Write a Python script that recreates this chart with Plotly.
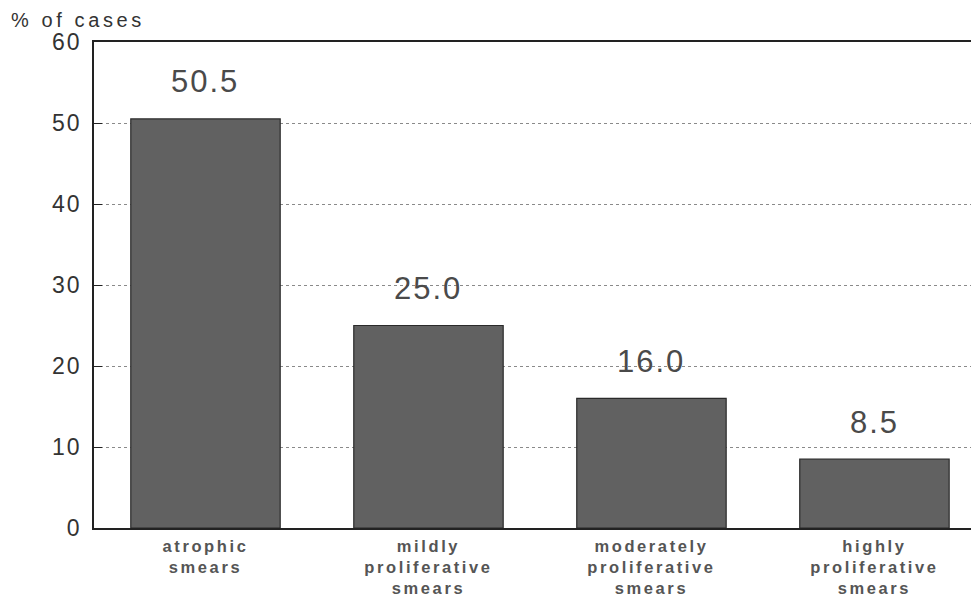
import plotly.graph_objects as go

categories = ["atrophic<br>smears", "mildly<br>proliferative<br>smears",
              "moderately<br>proliferative<br>smears", "highly<br>proliferative<br>smears"]
values = [50.5, 25.0, 16.0, 8.5]
value_labels = ["50.5", "25.0", "16.0", "8.5"]
y_ticks = [0, 10, 20, 30, 40, 50, 60]
y_title = "% of cases"

def spaced(s, px):
    return "<br>".join(f'<span style="letter-spacing:{px}px">{p}</span>' for p in s.split("<br>"))

fig = go.Figure()
fig.add_trace(go.Bar(
    x=categories, y=values,
    marker=dict(color="#616161", line=dict(color="#2a2a2a", width=1.2)),
    width=0.67,
))

for c, v, t in zip(categories, values, value_labels):
    fig.add_annotation(x=c, y=v, text=spaced(t, 2), showarrow=False, yshift=37,
                       font=dict(family="Liberation Sans, Arial", size=31, color="#4a4a4a"))

fig.add_annotation(xref="paper", yref="paper", x=-0.096, y=1.069, xanchor="left", yanchor="top",
                   text=spaced(y_title, 3.6), showarrow=False, borderpad=0,
                   font=dict(family="Liberation Sans, Arial", size=20, color="#333333"))

fig.update_layout(
    width=963, height=591,
    margin=dict(l=86, r=0, t=34, b=71, autoexpand=False),
    plot_bgcolor="white", paper_bgcolor="white",
    showlegend=False,
    xaxis=dict(showline=True, linecolor="#222222", linewidth=1.5, mirror=True,
               ticks="", showgrid=False, automargin=False, range=[-0.5, 3.433],
               tickvals=categories, ticktext=[spaced(c, 2.6) for c in categories],
               ticklabelstandoff=2,
               tickfont=dict(family="Liberation Sans, Arial", size=16.5, color="#555555", weight="bold")),
    yaxis=dict(range=[0, 60], tickvals=y_ticks, showline=True, linecolor="#222222", linewidth=1.5,
               mirror=True, ticks="inside", ticklen=8, tickcolor="#222222",
               showgrid=True, gridcolor="#8a8a8a", griddash="dot", gridwidth=1,
               zeroline=False, ticklabelstandoff=6, automargin=False,
               ticktext=[spaced(str(t), 2) for t in y_ticks],
               tickfont=dict(family="Liberation Sans, Arial", size=23, color="#333333")),
)

fig.write_html("out.html")
